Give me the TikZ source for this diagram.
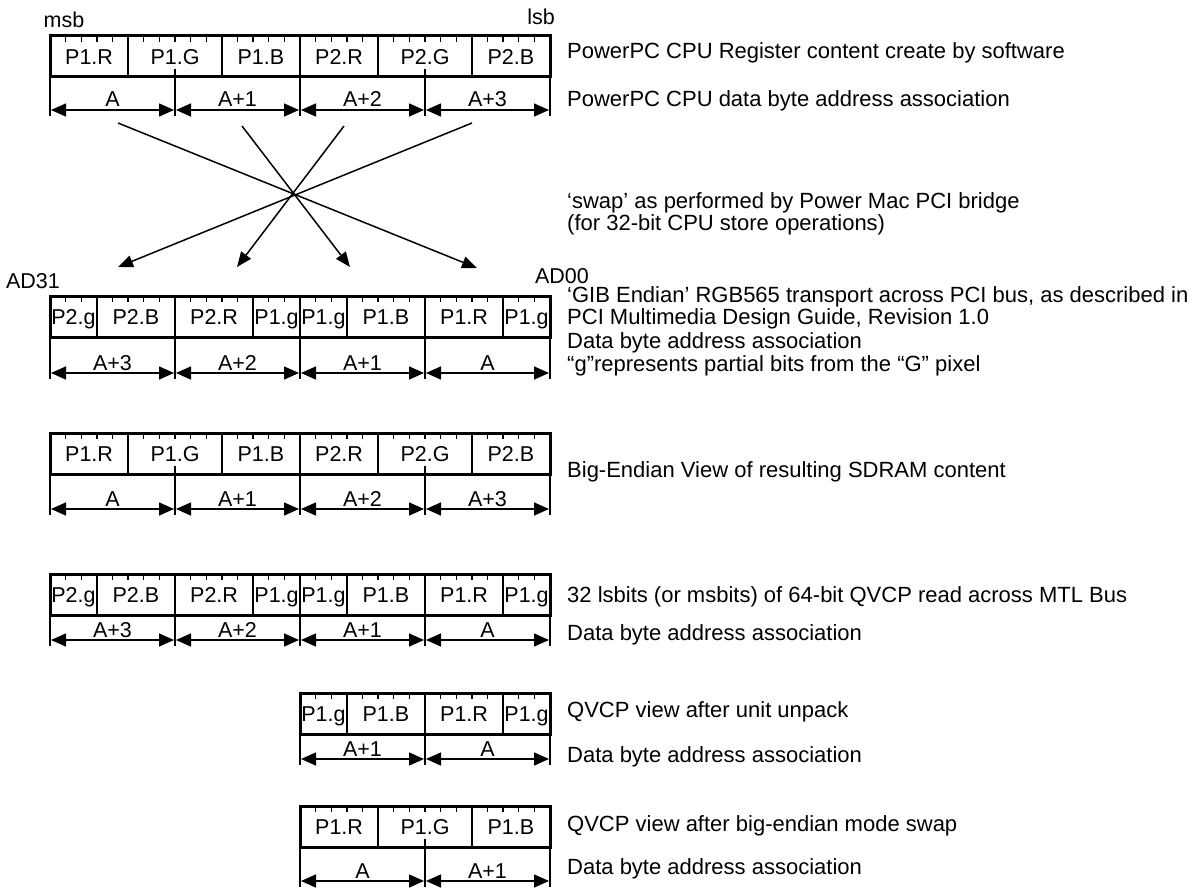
\documentclass[tikz,border=0pt]{standalone}
\usepackage{fontspec}
\setmainfont{Liberation Sans}
\usetikzlibrary{arrows.meta,calc}
\definecolor{ink}{HTML}{000000}
\newcommand{\bw}{15.625}
\tikzset{
  txt/.style={inner sep=0pt,font=\fontsize{21.5}{22}\selectfont,text=ink},
  note/.style={txt,anchor=west,align=left,font=\fontsize{22}{22}\selectfont},
  cell/.style={txt,anchor=base},
  regframe/.style={draw=ink,line width=3pt},
  fdiv/.style={draw=ink,line width=1.5pt},
  btick/.style={draw=ink,line width=1.3pt},
  dim/.style={{Triangle[length=15pt,width=13pt]}-{Triangle[length=15pt,width=13pt]},draw=ink,line width=1.5pt},
  swp/.style={-{Triangle[length=15pt,width=12pt]},draw=ink,line width=1.5pt},
}
% #1 name, #2 left x, #3 top y, #4 bits, #5 fields lo/hi/text, #6 byte labels, #7 arrow y
\newcommand{\regrow}[7]{%
  \pgfmathsetmacro{\rx}{#2+#4*\bw}
  \pgfmathtruncatemacro{\nb}{#4-1}
  \foreach \k in {1,...,\nb} \draw[btick] ({#2+\k*\bw},#3) -- ++(0,6);
  \foreach \lo/\hi/\lab [count=\i] in {#5} {
    \draw[fdiv] ({#2+\lo*\bw},#3) -- ++(0,41);
    \node[cell] (#1f\i) at ({#2+(\lo+\hi)/2*\bw},#3+28.5) {\lab};
  }
  \foreach \lab [count=\j from 0] in {#6} {
    \draw[fdiv] ({#2+\j*125},#3+33) -- ({#2+\j*125},#7+6);
    \draw[dim] ({#2+\j*125+1},#7) -- ({#2+\j*125+124},#7);
    \node[cell] (#1a\j) at ({#2+\j*125+62.5},#7-3) {\lab};
  }
  \draw[fdiv] (\rx,#3+41) -- (\rx,#7+6);
  \draw[regframe] (#2,#3) rectangle (\rx,#3+41);
}

\begin{document}
\begin{tikzpicture}[x=1pt,y=-1pt]
\useasboundingbox (0,0) rectangle (1199,888);

% register rows
\regrow{cpu}{50}{36}{32}{0/5/P1.R,5/11/P1.G,11/16/P1.B,16/21/P2.R,21/27/P2.G,27/32/P2.B}{A,A+1,A+2,A+3}{110}
\regrow{pci}{50}{296}{32}{0/3/P2.g,3/8/P2.B,8/13/P2.R,13/16/P1.g,16/19/P1.g,19/24/P1.B,24/29/P1.R,29/32/P1.g}{A+3,A+2,A+1,A}{373}
\regrow{ram}{50}{433}{32}{0/5/P1.R,5/11/P1.G,11/16/P1.B,16/21/P2.R,21/27/P2.G,27/32/P2.B}{A,A+1,A+2,A+3}{509}
\regrow{mtl}{50}{574}{32}{0/3/P2.g,3/8/P2.B,8/13/P2.R,13/16/P1.g,16/19/P1.g,19/24/P1.B,24/29/P1.R,29/32/P1.g}{A+3,A+2,A+1,A}{640}
\regrow{unp}{300}{693}{16}{0/3/P1.g,3/8/P1.B,8/13/P1.R,13/16/P1.g}{A+1,A}{759}
\regrow{bes}{300}{806}{16}{0/5/P1.R,5/11/P1.G,11/16/P1.B}{A,A+1}{881}

% bit order labels
\node[txt] (msb) at (64,20) {msb};
\node[txt] (lsb) at (541,17) {lsb};
\node[txt] (ad31) at (33,281) {AD31};
\node[txt] (ad00) at (562,276) {AD00};

% bridge swap
\coordinate (s1) at (118,123);
\coordinate (s2) at (242,126);
\coordinate (s3) at (344,126);
\coordinate (s4) at (472,123);
\coordinate (e1) at (477,268);
\coordinate (e2) at (350,267);
\coordinate (e3) at (237,267);
\coordinate (e4) at (118,267);
\foreach \i in {1,...,4} \draw[swp] (s\i) -- (e\i);

% descriptions
\node[note] (cpureg) at (567,53) {PowerPC CPU Register content create by software};
\node[note] (cpuadr) at (567,101) {PowerPC CPU data byte address association};
\node[note] (swap) at (567,214) {‘swap’ as performed by Power Mac PCI bridge\\(for 32-bit CPU store operations)};
\node[note] (gib) at (567,308) {‘GIB Endian’ RGB565 transport across PCI bus, as described in\\PCI Multimedia Design Guide, Revision 1.0};
\node[note] (pciadr) at (567,343) {Data byte address association};
\node[note] (gnote) at (567,366) {“g”represents partial bits from the “G” pixel};
\node[note] (ramview) at (567,472) {Big-Endian View of resulting SDRAM content};
\node[note] (mtlread) at (567,597) {32 lsbits (or msbits) of 64-bit QVCP read across MTL Bus};
\node[note] (mtladr) at (567,635) {Data byte address association};
\node[note] (unpview) at (567,712) {QVCP view after unit unpack};
\node[note] (unpadr) at (567,757) {Data byte address association};
\node[note] (besview) at (567,826) {QVCP view after big-endian mode swap};
\node[note] (besadr) at (567,869) {Data byte address association};
\end{tikzpicture}
\end{document}
